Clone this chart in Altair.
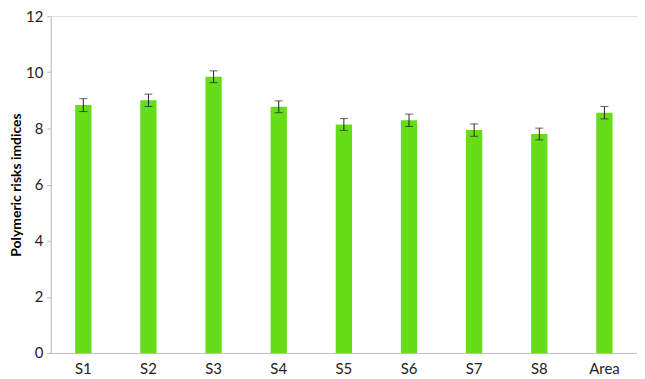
import altair as alt
import pandas as pd

sites = ["S1", "S2", "S3", "S4", "S5", "S6", "S7", "S8", "Area"]
values = [8.83, 9.00, 9.84, 8.77, 8.14, 8.29, 7.94, 7.80, 8.56]
errors = [0.23, 0.22, 0.21, 0.21, 0.21, 0.22, 0.22, 0.21, 0.22]
y_ticks = [0, 2, 4, 6, 8, 10, 12]

df = pd.DataFrame({"site": sites, "value": values, "err": errors})
df["lo"] = df["value"] - df["err"]
df["hi"] = df["value"] + df["err"]

FONT = "Lato"

x = alt.X("site:N", sort=sites, title=None,
          scale=alt.Scale(paddingInner=0.75, paddingOuter=0.375),
          axis=alt.Axis(labelAngle=0, ticks=False, domainColor="#bfbfbf",
                        labelFontSize=15, labelFont=FONT, labelColor="#222222",
                        labelPadding=9, grid=False))
y_scale = alt.Scale(domain=[0, 12], nice=False)

bars = alt.Chart(df).mark_bar(color="#66dd19").encode(
    x=x,
    y=alt.Y("value:Q", scale=y_scale, title="Polymeric risks imdices",
            axis=alt.Axis(values=y_ticks, grid=False, domainColor="#bfbfbf",
                          tickColor="#bfbfbf", tickSize=4, labelFontSize=15,
                          labelFont=FONT, labelColor="#222222", labelPadding=4,
                          titleFont=FONT, titleFontSize=14, titleFontWeight="bold",
                          titleColor="#000000", titlePadding=2)),
)

rule = alt.Chart(df).mark_rule(color="#222222", strokeWidth=1).encode(
    x=alt.X("site:N", sort=sites),
    y=alt.Y("lo:Q", scale=y_scale),
    y2="hi:Q",
)
cap_lo = alt.Chart(df).mark_tick(color="#222222", thickness=1, size=8, orient="horizontal").encode(
    x=alt.X("site:N", sort=sites),
    y=alt.Y("lo:Q", scale=y_scale),
)
cap_hi = alt.Chart(df).mark_tick(color="#222222", thickness=1, size=8, orient="horizontal").encode(
    x=alt.X("site:N", sort=sites),
    y=alt.Y("hi:Q", scale=y_scale),
)

chart = alt.layer(bars, rule, cap_lo, cap_hi).properties(
    width=590, height=339,
    padding={"left": 1, "top": 0, "right": 0, "bottom": 0},
).configure_view(stroke=None).configure(background="white")

chart.save("out.html", embed_options={"renderer": "svg", "actions": False})
